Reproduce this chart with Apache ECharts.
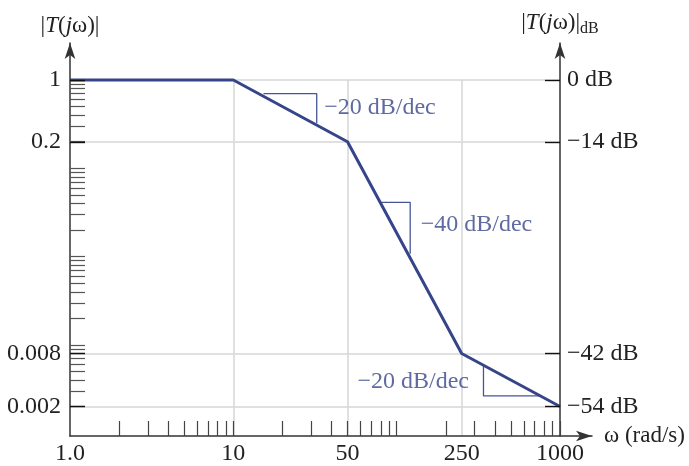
<!DOCTYPE html>
<html><head><meta charset="utf-8">
<script src="https://cdn.jsdelivr.net/npm/echarts@6/dist/echarts.min.js"></script>
<style>html,body{margin:0;padding:0;background:#fff}#c{width:689px;height:466px}</style>
</head><body><div id="c"></div>
<script>
// ---- data ----
const omega = [1, 10, 50, 250, 1000];
const gainDb = [0, 0, -14, -42, -54];
const xLabelValues = [1, 10, 50, 250, 1000];
const xLabelText = ['1.0', '10', '50', '250', '1000'];
const dbTickValues = [0, -14, -42, -54];
const magLabelText = ['1', '0.2', '0.008', '0.002'];
const dbLabelText = ['0 dB', '\u221214 dB', '\u221242 dB', '\u221254 dB'];
const slope1 = [[15.3, -3.1], [32.4, -3.1], [32.4, -9.8]];
const slope2 = [[79, -22], [121, -22], [121, -28.8]];
const slope3 = [[340, -44.7], [340, -51.6], [755, -51.6]];
const noteText = ['\u221220 dB/dec', '\u221240 dB/dec', '\u221220 dB/dec'];
const noteAnchor = [[32.4, -6.3], [121, -24.9], [340, -48.4]];
const gridOmega = [10, 50, 250];
const gridDb = [0, -14, -42, -54];

// decade tick patterns (axis decoration)
const xMinor = [];
[1, 10, 100].forEach(d => { for (let k = 2; k <= 10; k++) xMinor.push(k * d); });
const magMinor = [];
[1, 0.1, 0.01, 0.001].forEach(d => { for (let k = 10; k >= 2; k--) magMinor.push(+(k * d / 10).toPrecision(3)); });

const FONT = 'Liberation Serif';
const BLUE = '#36458a';
const AXIS = '#333';
const GRID = '#d6d6d6';
const FS = 24;

const X_MIN = 1, X_MAX = 1570;
const DB_MIN = -60.7, DB_MAX = 8.4;
const dbBreaks = [{ start: -42, end: -14, gap: 48 }];

function lookup(vals, texts, v, log) {
  const i = vals.findIndex(u => log ? Math.abs(Math.log10(u) - Math.log10(v)) < 1e-6 : Math.abs(u - v) < 1e-6);
  return i >= 0 ? texts[i] : '';
}

const nameRich = {
  r: { fontFamily: FONT, fontSize: 23, color: '#222' },
  i: { fontFamily: FONT, fontSize: 23, fontStyle: 'italic', color: '#222' },
  s: { fontFamily: FONT, fontSize: 16, color: '#222', padding: [12, 0, 0, 0] }
};

const chart = echarts.init(document.getElementById('c'));
const gridLines = [];
gridOmega.forEach(w => gridLines.push([{ coord: [w, 0] }, { coord: [w, DB_MIN] }]));
gridDb.forEach(v => gridLines.push([{ coord: [X_MIN, v] }, { coord: [1000, v] }]));

const notePos = ['right', 'right', 'left'];
const noteDist = [7, 10, 14];
const arrowLine = { show: true, onZero: false, lineStyle: { color: AXIS, width: 1.5 }, symbol: ['none', 'arrow'], symbolSize: [8, 16] };

chart.setOption({
  animation: false,
  backgroundColor: '#fff',
  grid: { left: 70, right: 97, top: 43, bottom: 30, outerBoundsMode: 'none', containLabel: false },
  xAxis: {
    type: 'log', logBase: 10, min: X_MIN, max: X_MAX, z: 8,
    name: '\u03c9 (rad/s)', nameLocation: 'end', nameGap: 12,
    nameTextStyle: { fontFamily: FONT, fontSize: 23, color: '#222', verticalAlign: 'middle' },
    axisLine: arrowLine,
    axisTick: { show: true, inside: true, length: 15, customValues: xMinor, lineStyle: { color: '#444', width: 1.2 } },
    axisLabel: { customValues: xLabelValues, fontFamily: FONT, fontSize: FS, color: '#222', margin: 6,
      formatter: v => lookup(xLabelValues, xLabelText, v, true) },
    splitLine: { show: false }, minorTick: { show: false }
  },
  yAxis: [
    {
      type: 'value', position: 'left', min: DB_MIN, max: DB_MAX, z: 9,
      breaks: dbBreaks, breakArea: { show: false, itemStyle: { opacity: 0, borderWidth: 0 } },
      name: '{r||}{i|T}{r|(}{i|j}{r|\u03c9)|}', nameLocation: 'end', nameGap: 6,
      nameTextStyle: { rich: nameRich },
      axisLine: { show: false, onZero: false },
      axisTick: { show: true, inside: true, length: 15, customValues: dbTickValues, lineStyle: { color: '#111', width: 1.4 } },
      axisLabel: { customValues: dbTickValues, fontFamily: FONT, fontSize: FS, color: '#222', margin: 9,
        formatter: v => lookup(dbTickValues, magLabelText, v, false) },
      splitLine: { show: false }
    },
    {
      type: 'value', position: 'right', offset: -32, min: DB_MIN, max: DB_MAX, z: 9,
      breaks: dbBreaks, breakArea: { show: false, itemStyle: { opacity: 0, borderWidth: 0 } },
      name: '{r||}{i|T}{r|(}{i|j}{r|\u03c9)|}{s|dB}', nameLocation: 'end', nameGap: 6,
      nameTextStyle: { rich: nameRich },
      axisLine: { show: false, onZero: false },
      axisTick: { show: true, inside: true, length: 15, customValues: dbTickValues, lineStyle: { color: '#111', width: 1.4 } },
      axisLabel: { customValues: dbTickValues, fontFamily: FONT, fontSize: FS, color: '#222', margin: 7,
        formatter: v => lookup(dbTickValues, dbLabelText, v, false) },
      splitLine: { show: false }
    },
    {
      type: 'log', logBase: 10, position: 'left', min: 9.32e-5, max: 2.624, z: 8,
      axisLine: arrowLine,
      axisTick: { show: true, inside: true, length: 15, customValues: magMinor, lineStyle: { color: '#555', width: 1.2 } },
      axisLabel: { show: false },
      splitLine: { show: false }, minorTick: { show: false }
    },
    {
      type: 'value', position: 'right', offset: -32, min: 0, max: 1, z: 8,
      axisLine: arrowLine,
      axisTick: { show: false }, axisLabel: { show: false }, splitLine: { show: false }
    }
  ],
  series: [
    {
      type: 'line', yAxisIndex: 0, z: 1, silent: true, symbol: 'none',
      data: omega.map((w, i) => [w, gainDb[i]]),
      lineStyle: { opacity: 0 },
      markLine: { silent: true, symbol: 'none', animation: false, label: { show: false },
        lineStyle: { color: GRID, width: 1.5, type: 'solid' }, data: gridLines }
    },
    {
      type: 'line', yAxisIndex: 0, z: 5, symbol: 'none',
      data: omega.map((w, i) => [w, gainDb[i]]),
      lineStyle: { color: BLUE, width: 3 }
    },
    ...[slope1, slope2, slope3].map(s => ({
      type: 'line', yAxisIndex: 0, z: 4, symbol: 'none', data: s,
      lineStyle: { color: '#45559a', width: 1.3 }
    })),
    {
      type: 'scatter', yAxisIndex: 0, z: 6, symbolSize: 1, itemStyle: { color: 'rgba(0,0,0,0)' },
      data: noteAnchor.map((p, i) => ({ value: p, label: { position: notePos[i], distance: noteDist[i] } })),
      label: { show: true, fontFamily: FONT, fontSize: FS, color: BLUE,
        formatter: p => noteText[p.dataIndex] }
    }
  ]
});
</script></body></html>
